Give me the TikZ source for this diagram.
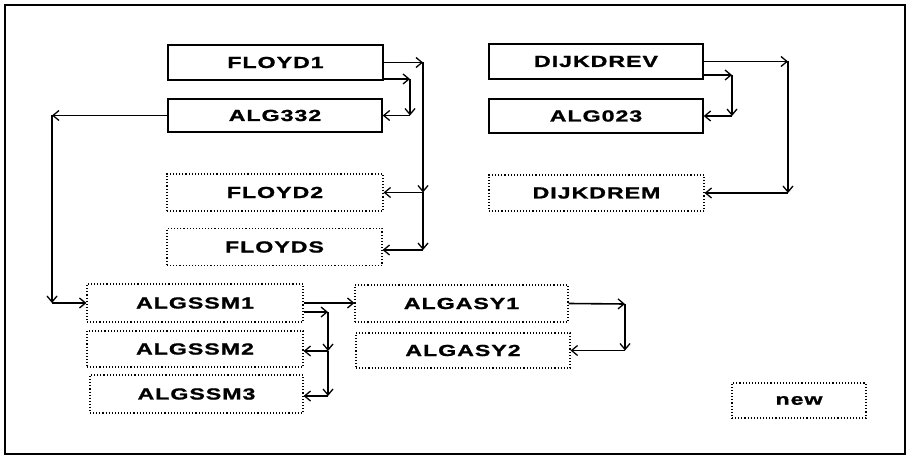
\documentclass[tikz,border=0pt]{standalone}
\usepackage{fontspec}
\newfontfamily\lbl[FakeStretch=1.45,LetterSpace=6,FakeBold=1.2]{Liberation Sans Bold}
\usetikzlibrary{arrows.meta}
\tikzset{
  oldbox/.style={draw, line width=1.4pt, inner sep=0pt, font=\lbl\fontsize{16pt}{18pt}\selectfont},
  newbox/.style={draw, dotted, line width=1.1pt, inner sep=0pt, font=\lbl\fontsize{16pt}{18pt}\selectfont},
  arr/.style={-{Straight Barb[length=6pt,width=10pt,line width=1.3pt]}, line width=1.6pt},
  frame/.style={draw, line width=2.2pt}
}
\begin{document}
\begin{tikzpicture}[x=1pt,y=-1pt]
\useasboundingbox (0,0) rectangle (913,457);
\draw[frame] (5,5) rectangle (905,454);
% top-left group
\node[oldbox, minimum width=215pt, minimum height=35pt] (floyd1) at (275.5,62.5) {FLOYD1};
\node[oldbox, minimum width=214pt, minimum height=33pt] (alg332) at (275,115.5) {ALG332};
\node[newbox, minimum width=216pt, minimum height=37pt] (floyd2) at (275,192.5) {FLOYD2};
\node[newbox, minimum width=215pt, minimum height=37pt] (floyds) at (274.5,247) {FLOYDS};
% top-right group
\node[oldbox, minimum width=214pt, minimum height=35pt] (dijkdrev) at (596,61.5) {DIJKDREV};
\node[oldbox, minimum width=214pt, minimum height=34pt] (alg023) at (596,116) {ALG023};
\node[newbox, minimum width=215pt, minimum height=36pt] (dijkdrem) at (596.5,193) {DIJKDREM};
% bottom groups
\node[newbox, minimum width=216pt, minimum height=38pt] (algssm1) at (195,303) {ALGSSM1};
\node[newbox, minimum width=216pt, minimum height=36pt] (algssm2) at (195,349) {ALGSSM2};
\node[newbox, minimum width=213pt, minimum height=38pt] (algssm3) at (196.5,394) {ALGSSM3};
\node[newbox, minimum width=213pt, minimum height=37pt] (algasy1) at (461.5,303.5) {ALGASY1};
\node[newbox, minimum width=214pt, minimum height=35pt] (algasy2) at (463,350.5) {ALGASY2};
\node[newbox, minimum width=134pt, minimum height=35pt] (new) at (799,400.5) {new};
% corner coordinates
\coordinate (f1a) at (423,62.5);
\coordinate (f1b) at (423,192.5);
\coordinate (f1c) at (423,250);
\coordinate (f2a) at (410,79);
\coordinate (f2b) at (410,115.5);
\coordinate (d1a) at (788,61.5);
\coordinate (d1b) at (788,193);
\coordinate (d2a) at (732,75);
\coordinate (d2b) at (732,116);
\coordinate (s1a) at (52,115.5);
\coordinate (s1b) at (52,303);
\coordinate (m2a) at (328,312);
\coordinate (m2b) at (328,351);
\coordinate (m2c) at (328,396);
\coordinate (y1a) at (625,304);
\coordinate (y1b) at (625,350.5);
% FLOYD1 connectors
\draw[arr] (floyd1.east) -- (f1a);
\draw[arr] (f1a) -- (f1b);
\draw[arr] (f1b) -- (floyd2.east);
\draw[arr] (f1b) -- (f1c);
\draw[arr] (f1c) -- (floyds.east |- f1c);
\draw[arr] (floyd1.east |- f2a) -- (f2a);
\draw[arr] (f2a) -- (f2b);
\draw[arr] (f2b) -- (alg332.east);
% DIJKDREV connectors
\draw[arr] (dijkdrev.east) -- (d1a);
\draw[arr] (d1a) -- (d1b);
\draw[arr] (d1b) -- (dijkdrem.east);
\draw[arr] (dijkdrev.east |- d2a) -- (d2a);
\draw[arr] (d2a) -- (d2b);
\draw[arr] (d2b) -- (alg023.east);
% ALG332 to ALGSSM1
\draw[arr] (alg332.west) -- (s1a);
\draw[arr] (s1a) -- (s1b);
\draw[arr] (s1b) -- (algssm1.west);
% ALGSSM1 connectors
\draw[arr] (algssm1.east) -- (algasy1.west |- algssm1.east);
\draw[arr] (algssm1.east |- m2a) -- (m2a);
\draw[arr] (m2a) -- (m2b);
\draw[arr] (m2b) -- (algssm2.east |- m2b);
\draw[arr] (m2b) -- (m2c);
\draw[arr] (m2c) -- (algssm3.east |- m2c);
% ALGASY1 connectors
\draw[arr] (algasy1.east) -- (y1a);
\draw[arr] (y1a) -- (y1b);
\draw[arr] (y1b) -- (algasy2.east);
\end{tikzpicture}
\end{document}
